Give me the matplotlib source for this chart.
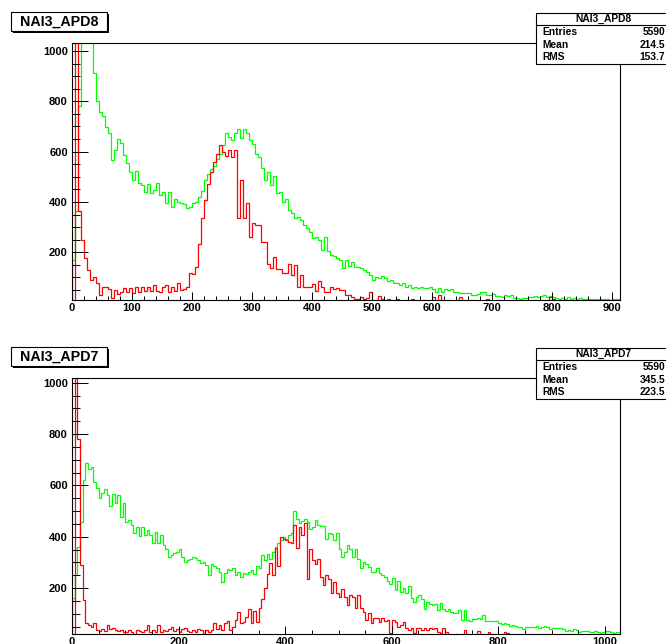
import numpy as np
import matplotlib
matplotlib.use("Agg")
import matplotlib.pyplot as plt
from matplotlib.patches import Rectangle
from matplotlib.ticker import MultipleLocator

plt.rcParams['font.family'] = ['Liberation Sans', 'DejaVu Sans']
plt.rcParams['font.weight'] = 'bold'

BIN = 5  # channel width of both histograms

# NAI3_APD8 (top pad), counts per 5-channel bin starting at 0
apd8_green = [
    170, 365, 780, 1400, 1400, 1300, 1150, 912, 801, 759,
    742, 696, 673, 567, 606, 649, 633, 587, 553, 520,
    487, 523, 476, 467, 441, 470, 434, 447, 476, 427,
    441, 394, 441, 381, 410, 401, 394, 390, 374, 381,
    394, 401, 421, 445, 487, 511, 530, 543, 569, 590,
    626, 673, 660, 646, 675, 689, 653, 689, 673, 646,
    630, 590, 580, 533, 487, 520, 467, 505, 434, 441,
    401, 410, 368, 354, 335, 342, 330, 308, 295, 282,
    255, 262, 248, 209, 259, 205, 189, 185, 176, 169,
    136, 169, 145, 160, 141, 140, 136, 129, 120, 109,
    89, 100, 97, 105, 97, 87, 90, 79, 76, 70,
    76, 63, 68, 58, 62, 56, 61, 57, 58, 60,
    55, 42, 56, 40, 52, 50, 52, 42, 40, 36,
    38, 36, 38, 30, 30, 33, 43, 40, 30, 28,
    33, 26, 26, 22, 30, 26, 28, 16, 18, 15,
    18, 16, 22, 20, 25, 23, 24, 28, 22, 24,
    20, 16, 14, 18, 15, 20, 14, 17, 13, 16,
    14, 12, 15, 13, 15, 12, 14, 12, 15, 11,
    13, 15, 12,
]
apd8_red = [
    5, 2000, 365, 249, 176, 129, 89, 100, 76, 30,
    63, 63, 55, 17, 50, 35, 40, 56, 40, 56,
    38, 60, 40, 60, 45, 63, 45, 70, 45, 40,
    60, 70, 40, 63, 45, 78, 50, 55, 60, 116,
    112, 140, 233, 335, 408, 470, 520, 560, 590, 626,
    600, 582, 606, 580, 606, 335, 487, 335, 394, 262,
    317, 310, 308, 242, 242, 153, 136, 182, 132, 132,
    116, 116, 153, 109, 149, 63, 109, 60, 60, 63,
    73, 45, 87, 63, 41, 41, 63, 55, 58, 50,
    50, 30, 30, 20, 12, 15, 20, 12, 18, 43,
    10, 8, 24, 12, 8, 15, 10, 6, 12, 8,
    5, 10, 7, 12, 5, 8, 6, 10, 5, 8,
    22, 6, 28, 8, 5, 10, 6, 4, 8, 22,
    5, 8, 4, 10, 6, 5, 8, 4, 12, 5,
    6, 4, 8, 5, 3, 6, 4, 5, 3, 6,
    4, 3, 5, 4, 3, 6, 4, 3, 5, 22,
    14, 4, 3, 5, 3, 4, 2, 3, 4, 2,
    3, 2, 4, 2, 3, 2, 3, 2, 3, 2,
    3, 2, 2,
]

# NAI3_APD7 (bottom pad)
apd7_green = [
    160, 250, 361, 458, 621, 686, 666, 673, 612, 591,
    552, 569, 586, 562, 521, 566, 530, 562, 478, 530,
    458, 465, 445, 413, 439, 404, 439, 406, 426, 406,
    374, 419, 374, 406, 367, 354, 322, 328, 335, 341,
    354, 322, 302, 309, 315, 322, 318, 309, 296, 302,
    289, 250, 292, 287, 277, 263, 224, 260, 274, 270,
    277, 250, 263, 244, 257, 253, 263, 270, 253, 287,
    280, 328, 309, 331, 315, 341, 361, 374, 387, 400,
    393, 406, 413, 500, 471, 452, 461, 469, 458, 429,
    439, 465, 445, 443, 443, 393, 413, 409, 387, 413,
    354, 322, 341, 367, 354, 322, 352, 315, 280, 302,
    292, 283, 263, 261, 280, 257, 250, 244, 227, 214,
    240, 192, 227, 186, 199, 179, 209, 162, 146, 166,
    172, 159, 120, 146, 136, 133, 136, 114, 142, 120,
    111, 118, 107, 104, 101, 114, 75, 116, 75, 73,
    79, 78, 82, 78, 95, 73, 70, 72, 70, 73,
    62, 60, 62, 60, 53, 55, 52, 50, 50, 39,
    50, 48, 49, 47, 52, 45, 47, 52, 48, 42,
    45, 44, 43, 45, 42, 33, 35, 33, 42, 36,
    30, 33, 32, 34, 30, 28, 32, 30, 26, 28,
    31, 32, 29, 26, 28, 30,
]
apd7_red = [
    5, 2000, 783, 290, 153, 62, 58, 49, 62, 36,
    32, 42, 32, 55, 40, 45, 36, 32, 38, 30,
    28, 36, 30, 19, 36, 32, 28, 38, 58, 30,
    36, 28, 58, 30, 38, 32, 40, 50, 32, 40,
    30, 40, 45, 32, 28, 38, 30, 40, 35, 22,
    38, 28, 35, 62, 40, 58, 36, 62, 71, 38,
    50, 75, 105, 62, 69, 87, 118, 62, 110, 69,
    121, 157, 199, 253, 296, 250, 357, 287, 400, 393,
    387, 380, 374, 446, 356, 440, 408, 455, 236, 352,
    308, 294, 313, 243, 211, 250, 237, 179, 224, 179,
    166, 198, 166, 133, 172, 166, 121, 172, 121, 108,
    75, 101, 62, 84, 82, 69, 82, 72, 75, 25,
    75, 69, 49, 56, 69, 43, 37, 43, 25, 43,
    45, 37, 43, 37, 43, 40, 45, 30, 24, 45,
    30, 22, 18, 16, 20, 15, 12, 37, 20, 15,
    12, 10, 33, 14, 10, 12, 30, 15, 10, 8,
    12, 8, 30, 25, 8, 6, 10, 5, 8, 6,
    5, 4, 6, 3, 5, 4, 3, 5, 3, 4,
    2, 3, 2, 3, 2, 3, 2, 2, 3, 2,
    2, 1, 2, 2, 1, 2, 1, 2, 1, 1,
    2, 1, 1, 1, 1, 1,
]

titles = ["NAI3_APD8", "NAI3_APD7"]
stat_names = ["Entries", "Mean", "RMS"]
stat_values = [["5590", "214.5", "153.7"], ["5590", "345.5", "223.5"]]

W, H = 666, 644
fig = plt.figure(figsize=(W / 100, H / 100), dpi=100)


def px_axes(x0, y0, x1, y1):
    return fig.add_axes([x0 / W, 1 - y1 / H, (x1 - x0) / W, (y1 - y0) / H])


panels = [
    dict(green=apd8_green, red=apd8_red, frame=(72, 43, 620, 300),
         xmax=913, ylim=(10, 1032), xmaj=100, xmin=20, dy=0),
    dict(green=apd7_green, red=apd7_red, frame=(72, 377.7, 620, 634),
         xmax=1028, ylim=(21, 1020), xmaj=200, xmin=50, dy=335),
]

for p in panels:
    ax = px_axes(*p['frame'])
    for vals, col in ((p['green'], '#00ff00'), (p['red'], '#ff0000')):
        edges = np.arange(len(vals) + 1) * BIN
        ax.stairs(vals, edges, color=col, lw=0.9)
    ax.set_xlim(0, p['xmax'])
    ax.set_ylim(*p['ylim'])
    ax.xaxis.set_major_locator(MultipleLocator(p['xmaj']))
    ax.xaxis.set_minor_locator(MultipleLocator(p['xmin']))
    ax.yaxis.set_major_locator(MultipleLocator(200))
    ax.yaxis.set_minor_locator(MultipleLocator(50))
    ax.tick_params(which='both', direction='in', top=False, right=False,
                   width=0.7, colors='black', labelsize=8)
    ax.tick_params(axis='x', which='major', length=5.5, pad=2.5)
    ax.tick_params(axis='x', which='minor', length=2.8)
    ax.tick_params(axis='y', which='major', length=11.5, pad=3)
    ax.tick_params(axis='y', which='minor', length=5.8)
    for lab in ax.get_xticklabels() + ax.get_yticklabels():
        lab.set_fontweight('bold')
    for s in ax.spines.values():
        s.set_linewidth(0.8)

# pads decorations in pixel coordinates
ov = fig.add_axes([0, 0, 1, 1], zorder=10)
ov.set_xlim(0, W)
ov.set_ylim(H, 0)
ov.axis('off')
ov.patch.set_alpha(0)

for i, p in enumerate(panels):
    dy = p['dy']
    # title box with shadow
    ov.add_patch(Rectangle((12.5, 13.5 + dy), 96, 19, fc='black', ec='none'))
    ov.add_patch(Rectangle((11, 12 + dy), 96, 19, fc='white', ec='black', lw=0.8))
    ov.text(59, 21.8 + dy, titles[i], ha='center', va='center',
            fontsize=10.3, fontweight='bold')
    # stats box
    ov.add_patch(Rectangle((537.5, 14 + dy), 134, 51, fc='black', ec='none'))
    ov.add_patch(Rectangle((536, 12.7 + dy), 134, 51, fc='white', ec='black', lw=0.8))
    ov.plot([536, 670], [25 + dy, 25 + dy], color='black', lw=0.8)
    ov.text(603, 19 + dy, titles[i], ha='center', va='center',
            fontsize=7.4, fontweight='bold')
    for k, (name, val) in enumerate(zip(stat_names, stat_values[i])):
        yy = 32 + dy + k * 12.7
        ov.text(542, yy, name, ha='left', va='center', fontsize=7.4, fontweight='bold')
        ov.text(665, yy, val, ha='right', va='center', fontsize=7.4, fontweight='bold')

fig.savefig('out.png', dpi=100)
